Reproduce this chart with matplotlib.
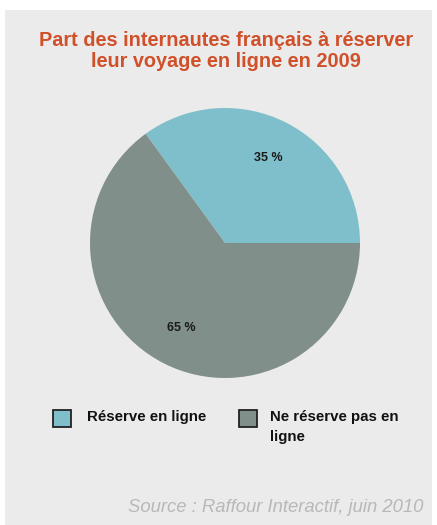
import matplotlib.pyplot as plt
from matplotlib.patches import Rectangle

# data
labels = ['Réserve en ligne', 'Ne réserve pas en\nligne']
values = [35, 65]
colors = ['#7fbfcb', '#808f89']
title = 'Part des internautes français à réserver\nleur voyage en ligne en 2009'
source = 'Source : Raffour Interactif, juin 2010'

plt.rcParams['font.family'] = ['Liberation Sans', 'DejaVu Sans']

W, H = 437, 525
fig = plt.figure(figsize=(W / 100, H / 100), dpi=100, facecolor='white')

# grey panel behind the chart
fig.patches.append(Rectangle((5 / W, 0), 427 / W, (H - 10) / H,
                             transform=fig.transFigure, facecolor='#ebebeb',
                             edgecolor='none', zorder=-5))

fig.text(226 / W, 1 - 51 / H, title, ha='center', va='center', fontsize=14.3,
         fontweight='bold', color='#d0502a', linespacing=1.15)

ax = fig.add_axes([90 / W, 1 - 378 / H, 270 / W, 270 / H])
ax.pie(values, colors=colors, startangle=0, counterclock=True,
       autopct=lambda p: f'{p:.0f} %', pctdistance=0.71,
       textprops={'fontsize': 9, 'fontweight': 'bold', 'color': '#1a1a1a'},
       wedgeprops={'linewidth': 0})
ax.set_xlim(-1, 1)
ax.set_ylim(-1, 1)
ax.set_aspect('equal')

# legend drawn by hand so the wrapped label hangs from its first line
box_x = [53, 239]
text_x = [87, 270]
for lab, c, bx, tx in zip(labels, colors, box_x, text_x):
    fig.patches.append(Rectangle((bx / W, 1 - 427 / H), 18 / W, 17 / H,
                                 transform=fig.transFigure, facecolor=c,
                                 edgecolor='#222222', linewidth=1.3))
    fig.text(tx / W, 1 - 410 / H, lab, ha='left', va='top', fontsize=10.8,
             fontweight='bold', color='#111111', linespacing=1.55)

fig.text(423 / W, 1 - 507 / H, source, ha='right', va='center', fontsize=13.3,
         style='italic', color='#b8b8b8')

fig.savefig('out.png', dpi=100, facecolor=fig.get_facecolor())
